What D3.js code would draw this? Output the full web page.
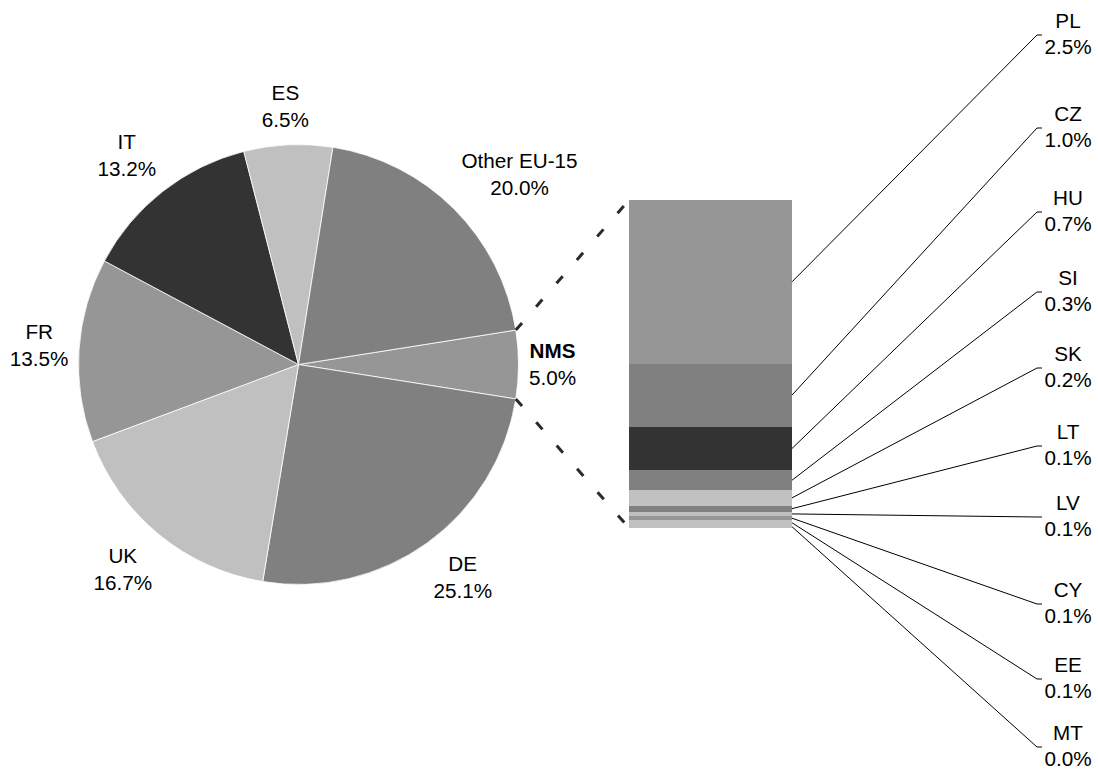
<!DOCTYPE html>
<html>
<head>
<meta charset="utf-8">
<script src="https://cdn.jsdelivr.net/npm/d3@7/dist/d3.min.js"></script>
<style>
  html, body { margin: 0; padding: 0; background: #fff; }
  svg { display: block; }
  text { font-family: "Liberation Sans", Arial, sans-serif; font-size: 20.7px; fill: #000; }
</style>
</head>
<body>
<svg id="chart" width="1099" height="771"></svg>
<script>
// ---- Data ----
const pieCats = ["NMS", "DE", "UK", "FR", "IT", "ES", "Other EU-15"];
const pieVals = [5.0, 25.1, 16.7, 13.5, 13.2, 6.5, 20.0];
const pieColors = ["#969696", "#808080", "#c0c0c0", "#969696", "#333333", "#c0c0c0", "#808080"];

const barCats = ["PL", "CZ", "HU", "SI", "SK", "LT", "LV", "CY", "EE", "MT"];
const barVals = [2.50, 0.96, 0.67, 0.30, 0.24, 0.09, 0.07, 0.06, 0.08, 0.04];
const barColors = ["#969696", "#808080", "#333333", "#808080", "#c0c0c0", "#808080", "#c0c0c0", "#969696", "#c0c0c0", "#c0c0c0"];

// layout of the secondary labels (vertical anchor of each leader line end)
const labelY = [35, 128, 212, 292, 368, 446, 517, 604, 679, 747];

// ---- Layout ----
const svg = d3.select("#chart");
const cx = 298.5, cy = 364.5, R = 220;
const labelR = R + 10.5;
const barX0 = 629, barX1 = 792, barTop = 200, barBottom = 528;
const lineGap = 27;

const total = d3.sum(pieVals);
const startA = Math.PI / 2 - (pieVals[0] / total) * Math.PI;

const pie = d3.pie().sort(null).value(d => d)
  .startAngle(startA).endAngle(startA + 2 * Math.PI);
const arcs = pie(pieVals);
const arc = d3.arc().innerRadius(0).outerRadius(R);

const gPie = svg.append("g").attr("transform", `translate(${cx},${cy})`);
gPie.selectAll("path").data(arcs).enter().append("path")
  .attr("d", arc)
  .attr("fill", (d, i) => pieColors[i])
  .attr("stroke", "#ffffff")
  .attr("stroke-width", 0.8)
  .attr("stroke-linejoin", "round");

// pie labels (outside end, Excel-like placement)
const clampS = v => Math.max(-1, Math.min(1, v * 2));
arcs.forEach((d, i) => {
  const a = (d.startAngle + d.endAngle) / 2;
  const s = Math.sin(a), c = Math.cos(a);
  const px = cx + labelR * s, py = cy - labelR * c;
  const t = svg.append("text").attr("text-anchor", "middle");
  const t1 = t.append("tspan").text(pieCats[i]);
  if (i === 0) t1.attr("font-weight", "bold");
  const t2 = t.append("tspan").text(pieVals[i].toFixed(1) + "%");
  const w = Math.max(t1.node().getComputedTextLength(), t2.node().getComputedTextLength());
  const bx = px + (w / 2) * clampS(s);
  const by = py - lineGap * clampS(c);
  t1.attr("x", bx).attr("y", by - 7);
  t2.attr("x", bx).attr("y", by + 20);
});

// ---- Secondary stacked bar ----
const barTotal = d3.sum(barVals);
const y = d3.scaleLinear().domain([0, barTotal]).range([barTop, barBottom]);
let cum = 0;
const segs = barVals.map((v, i) => {
  const s = { i, y0: cum, y1: cum + v };
  cum += v;
  return s;
});

svg.append("g").selectAll("rect").data(segs).enter().append("rect")
  .attr("x", barX0)
  .attr("width", barX1 - barX0)
  .attr("y", d => y(d.y0))
  .attr("height", d => y(d.y1) - y(d.y0))
  .attr("fill", d => barColors[d.i])
  .attr("shape-rendering", "crispEdges");

// connector dashed lines between pie and bar
const aTop = arcs[0].startAngle, aBot = arcs[0].endAngle;
const conn = [
  [[cx + R * Math.sin(aTop), cy - R * Math.cos(aTop)], [barX0, y(0)]],
  [[cx + R * Math.sin(aBot), cy - R * Math.cos(aBot)], [barX0, y(barTotal)]]
];
svg.append("g").selectAll("line").data(conn).enter().append("line")
  .attr("x1", d => d[0][0]).attr("y1", d => d[0][1])
  .attr("x2", d => d[1][0]).attr("y2", d => d[1][1])
  .attr("stroke", "#2b2b2b")
  .attr("stroke-width", 3)
  .attr("stroke-dasharray", "9.5 21.5");

// leader lines and labels of the bar
const gLab = svg.append("g");
segs.forEach((d, i) => {
  const ym = y((d.y0 + d.y1) / 2);
  const ly = labelY[i];
  gLab.append("path")
    .attr("d", `M${barX1},${ym}L1037,${ly}L1042,${ly}`)
    .attr("fill", "none")
    .attr("stroke", "#000")
    .attr("stroke-width", 1);
  const t = gLab.append("text").attr("text-anchor", "middle");
  t.append("tspan").attr("x", 1068).attr("y", ly - 7).text(barCats[i]);
  t.append("tspan").attr("x", 1068).attr("y", ly + 19).text(barVals[i].toFixed(1) + "%");
});
</script>
</body>
</html>
